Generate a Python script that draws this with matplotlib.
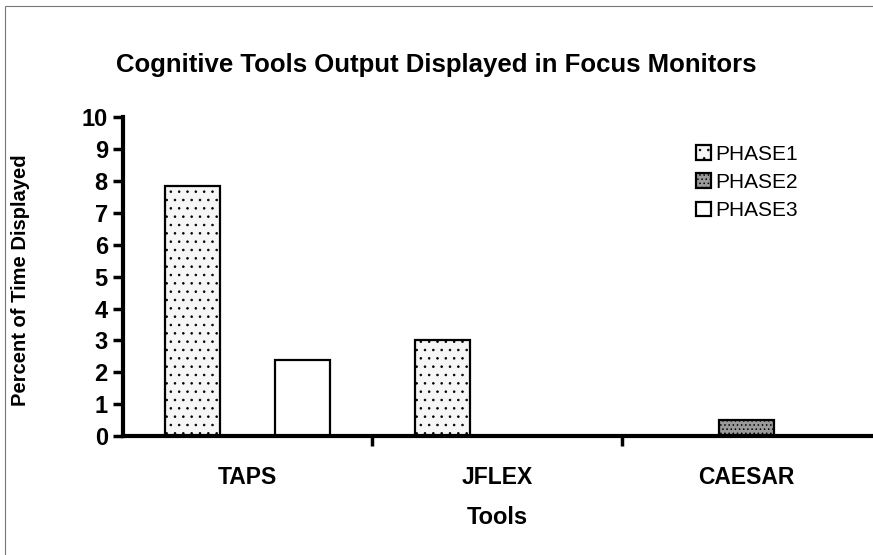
import numpy as np
import matplotlib.pyplot as plt
from matplotlib.patches import Rectangle

plt.rcParams['font.family'] = ['Liberation Sans', 'DejaVu Sans']
plt.rcParams['hatch.color'] = '#c8c8c8'
plt.rcParams['hatch.linewidth'] = 0.6

tools = ['TAPS', 'JFLEX', 'CAESAR']
phases = ['PHASE1', 'PHASE2', 'PHASE3']
phase1 = [7.85, 3.0, 0.0]
phase2 = [0.0, 0.0, 0.5]
phase3 = [2.4, 0.0, 0.0]
y_ticks = list(range(0, 11))

fig = plt.figure(figsize=(8.73, 5.55), dpi=100)
ax = fig.add_axes([0.141, 0.214, 0.857, 0.575])

# thin frame round the whole chart, like the scanned original
fig.patches.append(Rectangle((0.006, -0.01), 1.2, 1.0, transform=fig.transFigure,
                             fill=False, edgecolor='#777777', linewidth=0.8))

x = np.arange(len(tools))
w = 0.22
colors = ['#f6f6f6', '#9a9a9a', 'white']
hatches = ['..', '....', None]
for i, (vals, name) in enumerate(zip([phase1, phase2, phase3], phases)):
    ax.bar(x + (i - 1) * w, vals, w, label=name, color=colors[i],
           edgecolor='black', linewidth=1.6, hatch=hatches[i])

ax.set_xlim(-0.5, 2.5)
ax.set_ylim(0, 10)
ax.set_yticks(y_ticks)
ax.set_yticklabels([str(t) for t in y_ticks], fontsize=17, fontweight='bold')
ax.set_xticks([0.5, 1.5])
ax.set_xticklabels([])
ax.tick_params(axis='y', direction='out', length=7, width=2.5, pad=4)
ax.tick_params(axis='x', direction='out', length=7, width=2.5)
for t, name in zip(x, tools):
    ax.text(t, -1.3, name, ha='center', va='center', fontsize=16.5, fontweight='bold')

for s in ['top', 'right']:
    ax.spines[s].set_visible(False)
ax.spines['left'].set_linewidth(3)
ax.spines['bottom'].set_linewidth(3)

ax.set_ylabel('Percent of Time Displayed', fontsize=14.5, fontweight='bold')
ax.yaxis.set_label_coords(-0.124, 0.49)
ax.text(1.0, -2.55, 'Tools', ha='center', va='center', fontsize=17, fontweight='bold')
fig.text(0.5, 0.882, 'Cognitive Tools Output Displayed in Focus Monitors',
         ha='center', va='center', fontsize=18.5, fontweight='bold')

ax.legend(loc='upper left', bbox_to_anchor=(0.755, 0.94), frameon=False, fontsize=15,
          handlelength=0.7, handleheight=0.7, handletextpad=0.2, labelspacing=0.45,
          borderaxespad=0)

fig.savefig('out.png', dpi=100)
